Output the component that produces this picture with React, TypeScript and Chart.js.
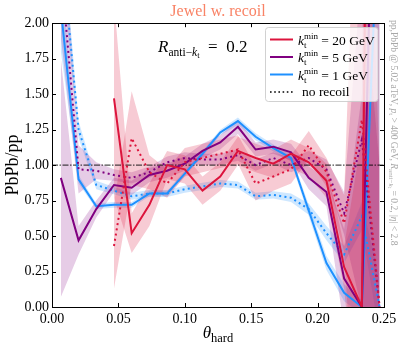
import { useEffect, useRef } from "react";
import { Chart, registerables } from "chart.js";

Chart.register(...registerables);

// ---------- data ----------
const THETA = [0.00667, 0.02, 0.03333, 0.04667, 0.06, 0.07333, 0.08667, 0.1, 0.11333, 0.12667, 0.14, 0.15333, 0.16667, 0.18, 0.19333, 0.20667, 0.22, 0.23333, 0.24667];

const RED_SOLID = [null, null, null, 1.47, 0.52, 0.72, 1.0, 0.97, 0.82, 0.92, 1.1, 1.05, 1.01, 1.08, 1.02, 0.89, 0.28, 0.0, 12];
const RED_SOLID_ERR = [0, 0, 0, 0.7, 0.14, 0.15, 0.1, 0.1, 0.1, 0.1, 0.1, 0.1, 0.1, 0.1, 0.1, 0.12, 0.15, 1.2, 12];
const RED_DOT = [null, null, null, 0.43, 1.19, 0.95, 0.87, 1.02, 1.05, 1.08, 1.11, 0.87, 0.92, 0.97, 1.14, 0.95, 0.59, 1.32, 0.0];
const RED_DOT_ERR = [0, 0, 0, 0.3, 0.33, 0.12, 0.1, 0.1, 0.1, 0.1, 0.1, 0.12, 0.1, 0.1, 0.1, 0.1, 0.2, 3.0, 1.0];

const PURPLE_SOLID = [0.91, 0.47, 0.69, 0.86, 0.84, 0.93, 0.96, 1.01, 1.1, 1.16, 1.27, 1.11, 1.13, 1.09, 0.91, 0.81, 0.2, 0.0, 5.0];
const PURPLE_SOLID_ERR = [0.84, 0.1, 0.06, 0.05, 0.05, 0.05, 0.05, 0.05, 0.05, 0.05, 0.05, 0.05, 0.05, 0.06, 0.08, 0.1, 0.35, 1.5, 5];
const PURPLE_DOT = [2.4, 0.97, 0.96, 0.93, 0.91, 0.95, 1.02, 1.05, 1.04, 1.04, 1.07, 1.0, 1.05, 1.0, 1.05, 0.97, 0.66, 1.18, 0.0];
const PURPLE_DOT_ERR = [0.5, 0.17, 0.06, 0.04, 0.04, 0.04, 0.04, 0.04, 0.04, 0.04, 0.04, 0.04, 0.04, 0.05, 0.05, 0.07, 0.15, 1.2, 1.0];

const BLUE_SOLID = [2.1, 0.9, 0.71, 0.72, 0.72, 0.8, 0.8, 0.94, 1.08, 1.23, 1.31, 1.2, 1.12, 1.05, 0.68, 0.31, 0.1, 0.0, 3.0];
const BLUE_SOLID_ERR = [0.3, 0.03, 0.02, 0.02, 0.02, 0.02, 0.02, 0.02, 0.02, 0.02, 0.025, 0.025, 0.025, 0.025, 0.04, 0.05, 0.06, 0.05, 3];
const BLUE_DOT = [2.6, 1.25, 0.86, 0.82, 0.78, 0.8, 0.8, 0.83, 0.85, 0.87, 0.86, 0.78, 0.79, 0.77, 0.69, 0.52, 0.37, 0.64, 0.0];
const BLUE_DOT_ERR = [0.2, 0.06, 0.03, 0.025, 0.025, 0.025, 0.025, 0.025, 0.025, 0.025, 0.025, 0.025, 0.025, 0.03, 0.04, 0.05, 0.06, 0.1, 0.2];

const X_TICKS = [0, 0.05, 0.1, 0.15, 0.2, 0.25];
const Y_TICKS = [0, 0.25, 0.5, 0.75, 1, 1.25, 1.5, 1.75, 2];
const REF_LEVEL = 1;

const KT_LABELS = ["20 GeV", "5 GeV", "1 GeV"];
const NO_RECOIL_LABEL = "no recoil";
const TITLE = "Jewel w. recoil";
const Y_TITLE = "PbPb/pp";

// ---------- styles ----------
const RED = "rgb(220,20,60)";
const PURPLE = "rgb(128,0,128)";
const BLUE = "rgb(30,144,255)";
const RED_BAND = "rgba(220,20,60,0.22)";
const PURPLE_BAND = "rgba(128,0,128,0.2)";
const BLUE_BAND = "rgba(30,144,255,0.22)";
const SERIF = "'Liberation Serif', serif";
const DOT = [2, 3.3];

type Seg = { t: string; it?: boolean; size: number; dy?: number; noAdv?: boolean };

function drawRich(ctx: CanvasRenderingContext2D, segs: Seg[], x: number, y: number, measureOnly = false) {
  let cx = x;
  for (const s of segs) {
    ctx.font = `${s.it ? "italic " : ""}${s.size}px ${SERIF}`;
    if (!measureOnly) ctx.fillText(s.t, cx, y + (s.dy || 0));
    const w = ctx.measureText(s.t).width;
    if (!s.noAdv) cx += w;
  }
  return cx - x;
}

const pts = (vals: (number | null)[]) => THETA.map((x, i) => ({ x, y: vals[i] }));
const shifted = (vals: (number | null)[], errs: number[], s: number) =>
  THETA.map((x, i) => ({ x, y: vals[i] == null ? null : (vals[i] as number) + s * errs[i] }));

function lineDs(vals: (number | null)[], color: string, dotted: boolean) {
  return {
    data: pts(vals),
    borderColor: color,
    borderWidth: 2,
    borderDash: dotted ? DOT : [],
    borderCapStyle: "butt",
    pointRadius: 0,
    fill: false,
    tension: 0,
    clip: 0,
    spanGaps: false,
  };
}

function bandDs(vals: (number | null)[], errs: number[], color: string) {
  return [
    {
      data: shifted(vals, errs, 1),
      borderColor: "rgba(0,0,0,0)",
      borderWidth: 0,
      backgroundColor: color,
      pointRadius: 0,
      fill: "+1",
      tension: 0,
      clip: 0,
    },
    {
      data: shifted(vals, errs, -1),
      borderColor: "rgba(0,0,0,0)",
      borderWidth: 0,
      pointRadius: 0,
      fill: false,
      tension: 0,
      clip: 0,
    },
  ];
}

const decor = {
  id: "decor",
  afterDraw(chart: any) {
    const ctx: CanvasRenderingContext2D = chart.ctx;
    const { left, right, top, bottom } = chart.chartArea;
    const xs = chart.scales.x;
    const ys = chart.scales.y;
    ctx.save();
    // frame
    ctx.strokeStyle = "#000";
    ctx.lineWidth = 1;
    ctx.strokeRect(Math.round(left) + 0.5, Math.round(top) + 0.5, Math.round(right - left), Math.round(bottom - top));
    // inward ticks
    const TL = 4;
    ctx.beginPath();
    for (const t of X_TICKS) {
      const px = Math.round(xs.getPixelForValue(t)) + 0.5;
      ctx.moveTo(px, bottom);
      ctx.lineTo(px, bottom - TL);
      ctx.moveTo(px, top);
      ctx.lineTo(px, top + TL);
    }
    for (const t of Y_TICKS) {
      const py = Math.round(ys.getPixelForValue(t)) + 0.5;
      ctx.moveTo(left, py);
      ctx.lineTo(left + TL, py);
      ctx.moveTo(right, py);
      ctx.lineTo(right - TL, py);
    }
    ctx.stroke();

    ctx.fillStyle = "#000";
    ctx.textBaseline = "alphabetic";
    ctx.textAlign = "left";

    // R_anti-kt = 0.2
    drawRich(
      ctx,
      [
        { t: "R", it: true, size: 17 },
        { t: "anti\u2212", size: 11.5, dy: 4 },
        { t: "k", it: true, size: 11.5, dy: 4 },
        { t: "t", size: 8.5, dy: 6 },
        { t: "  =  0.2", size: 17 },
      ],
      158,
      52
    );

    // x title theta_hard
    const thSegs: Seg[] = [
      { t: "\u03b8", it: true, size: 17 },
      { t: "hard", size: 12.5, dy: 4 },
    ];
    const thW = drawRich(ctx, thSegs, 0, 0, true);
    drawRich(ctx, thSegs, (left + right) / 2 - thW / 2, 338);

    // legend
    const lx = 265.5, ly = 27.5, lw = 112.5, lh = 74;
    ctx.beginPath();
    (ctx as any).roundRect(lx, ly, lw, lh, 3);
    ctx.fillStyle = "rgba(255,255,255,0.8)";
    ctx.fill();
    ctx.strokeStyle = "rgba(204,204,204,0.9)";
    ctx.lineWidth = 1;
    ctx.stroke();
    const rows = [39.5, 57, 74.5, 92];
    const colors = [RED, PURPLE, BLUE];
    for (let i = 0; i < 4; i++) {
      ctx.beginPath();
      ctx.strokeStyle = i < 3 ? colors[i] : "#000";
      ctx.lineWidth = i < 3 ? 2 : 1.6;
      ctx.setLineDash(i < 3 ? [] : [1.6, 2.6]);
      ctx.moveTo(270, rows[i]);
      ctx.lineTo(293, rows[i]);
      ctx.stroke();
      ctx.setLineDash([]);
      ctx.fillStyle = "#000";
      if (i < 3) {
        drawRich(
          ctx,
          [
            { t: "k", it: true, size: 13.5 },
            { t: "t", size: 9, dy: 3, noAdv: true },
            { t: "min", size: 9, dy: -6 },
            { t: " = " + KT_LABELS[i], size: 13.5 },
          ],
          298,
          rows[i] + 5
        );
      } else {
        drawRich(ctx, [{ t: NO_RECOIL_LABEL, size: 13.5 }], 302, rows[i] + 4);
      }
    }

    // right rotated annotation
    ctx.translate(390.5, 20);
    ctx.rotate(Math.PI / 2);
    ctx.fillStyle = "#a8a8a8";
    drawRich(
      ctx,
      [
        { t: "pp,PbPb @ 5.02 aTeV, ", size: 9.5 },
        { t: "p", it: true, size: 9.5 },
        { t: "t", size: 7, dy: 2 },
        { t: " > 400 GeV, ", size: 9.5 },
        { t: "R", it: true, size: 9.5 },
        { t: "anti\u2212", size: 7, dy: 2 },
        { t: "k", it: true, size: 7, dy: 2 },
        { t: "t", size: 5.5, dy: 3 },
        { t: " = 0.2, |", size: 9.5 },
        { t: "\u03b7", it: true, size: 9.5 },
        { t: "| < 2.8", size: 9.5 },
      ],
      0,
      0
    );
    ctx.restore();
  },
};

export default function App() {
  const ref = useRef<HTMLCanvasElement>(null);
  useEffect(() => {
    if (!ref.current) return;
    Chart.defaults.color = "#000";
    Chart.defaults.font.family = SERIF;
    const datasets: any[] = [
      lineDs(RED_SOLID, RED, false),
      lineDs(RED_DOT, RED, true),
      lineDs(PURPLE_SOLID, PURPLE, false),
      lineDs(PURPLE_DOT, PURPLE, true),
      lineDs(BLUE_SOLID, BLUE, false),
      lineDs(BLUE_DOT, BLUE, true),
      {
        data: [
          { x: X_TICKS[0], y: REF_LEVEL },
          { x: X_TICKS[X_TICKS.length - 1], y: REF_LEVEL },
        ],
        borderColor: "rgba(0,0,0,0.7)",
        borderWidth: 1.4,
        borderDash: [6, 1.5, 1.5, 1.5],
        pointRadius: 0,
        fill: false,
        clip: 0,
      },
      ...bandDs(RED_SOLID, RED_SOLID_ERR, RED_BAND),
      ...bandDs(RED_DOT, RED_DOT_ERR, RED_BAND),
      ...bandDs(PURPLE_SOLID, PURPLE_SOLID_ERR, PURPLE_BAND),
      ...bandDs(PURPLE_DOT, PURPLE_DOT_ERR, PURPLE_BAND),
      ...bandDs(BLUE_SOLID, BLUE_SOLID_ERR, BLUE_BAND),
      ...bandDs(BLUE_DOT, BLUE_DOT_ERR, BLUE_BAND),
    ];
    const chart = new Chart(ref.current, {
      type: "line",
      data: { datasets },
      options: {
        animation: false,
        responsive: false,
        events: [],
        layout: { padding: { left: 0, right: 23, top: 0, bottom: 0 } },
        plugins: {
          legend: { display: false },
          tooltip: { enabled: false },
          title: {
            display: true,
            text: TITLE,
            color: "#f98366",
            fullSize: false,
            font: { family: SERIF, size: 16, weight: "normal" },
            padding: { top: 2, bottom: 2 },
          },
        },
        scales: {
          x: {
            type: "linear",
            min: X_TICKS[0],
            max: X_TICKS[X_TICKS.length - 1],
            grid: { display: false, drawTicks: false },
            border: { display: false },
            afterFit: (s: any) => {
              s.height = 40;
            },
            afterBuildTicks: (s: any) => {
              s.ticks = X_TICKS.map((v) => ({ value: v }));
            },
            ticks: {
              autoSkip: false,
              maxRotation: 0,
              padding: 4,
              font: { family: SERIF, size: 14 },
              callback: (v: any) => Number(v).toFixed(2),
            },
          },
          y: {
            type: "linear",
            min: Y_TICKS[0],
            max: Y_TICKS[Y_TICKS.length - 1],
            grid: { display: false, drawTicks: false },
            border: { display: false },
            afterFit: (s: any) => {
              s.width = 52;
            },
            afterBuildTicks: (s: any) => {
              s.ticks = Y_TICKS.map((v) => ({ value: v }));
            },
            ticks: {
              autoSkip: false,
              padding: 3,
              font: { family: SERIF, size: 14 },
              callback: (v: any) => Number(v).toFixed(2),
            },
            title: {
              display: true,
              text: Y_TITLE,
              font: { family: SERIF, size: 18 },
              padding: { top: 2, bottom: 0 },
            },
          },
        },
      },
      plugins: [decor],
    } as any);
    return () => chart.destroy();
  }, []);
  return (
    <canvas
      ref={ref}
      width={407}
      height={347}
      style={{ position: "absolute", left: 0, top: 0, width: 407, height: 347 }}
    />
  );
}
